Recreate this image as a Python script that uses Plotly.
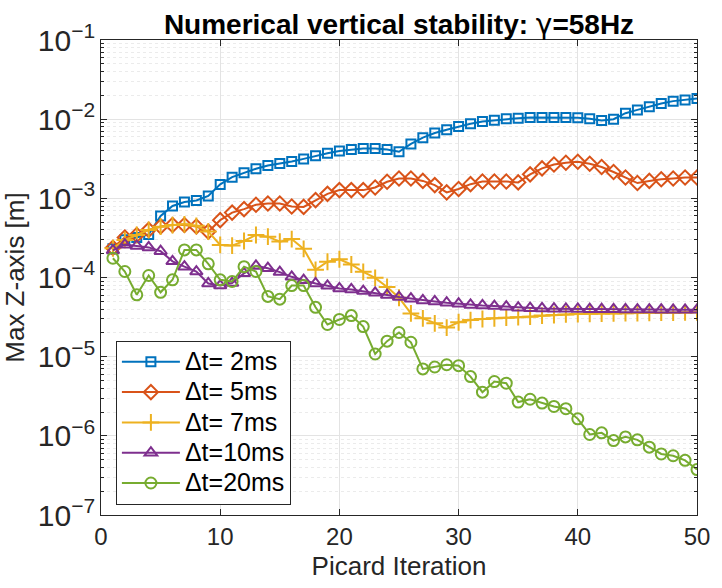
import plotly.graph_objects as go

iterations = list(range(1, 51))

dt_2ms = [2.3e-4, 3.0e-4, 3.2e-4, 3.5e-4, 6.0e-4, 8.0e-4, 9.0e-4, 9.4e-4, 1.07e-3, 1.5e-3,
          1.85e-3, 2.1e-3, 2.36e-3, 2.6e-3, 2.75e-3, 2.92e-3, 3.15e-3, 3.45e-3, 3.7e-3, 3.95e-3,
          4.14e-3, 4.26e-3, 4.26e-3, 4.14e-3, 3.87e-3, 4.87e-3, 5.84e-3, 6.68e-3, 7.36e-3, 8.1e-3,
          8.74e-3, 9.35e-3, 9.7e-3, 1.01e-2, 1.03e-2, 1.05e-2, 1.05e-2, 1.05e-2, 1.05e-2, 1.04e-2,
          1.01e-2, 9.6e-3, 1.0e-2, 1.19e-2, 1.31e-2, 1.44e-2, 1.58e-2, 1.69e-2, 1.74e-2, 1.83e-2]

dt_5ms = [2.38e-4, 3.2e-4, 3.44e-4, 4.0e-4, 4.4e-4, 4.6e-4, 4.6e-4, 4.4e-4, 3.8e-4, 5.3e-4,
          6.6e-4, 7.3e-4, 8.3e-4, 8.6e-4, 8.6e-4, 7.9e-4, 7.8e-4, 9.5e-4, 1.14e-3, 1.27e-3,
          1.27e-3, 1.27e-3, 1.37e-3, 1.62e-3, 1.78e-3, 1.78e-3, 1.66e-3, 1.47e-3, 1.19e-3, 1.31e-3,
          1.51e-3, 1.63e-3, 1.63e-3, 1.63e-3, 1.59e-3, 2.01e-3, 2.39e-3, 2.68e-3, 2.82e-3, 2.9e-3,
          2.73e-3, 2.49e-3, 2.15e-3, 1.83e-3, 1.56e-3, 1.66e-3, 1.74e-3, 1.78e-3, 1.83e-3, 1.83e-3]

dt_7ms = [2.34e-4, 2.98e-4, 3.44e-4, 3.98e-4, 4.38e-4, 4.6e-4, 4.69e-4, 4.5e-4, 3.8e-4, 2.58e-4,
          2.53e-4, 2.89e-4, 3.44e-4, 3.28e-4, 2.84e-4, 3.06e-4, 2.3e-4, 1.25e-4, 1.58e-4, 1.7e-4,
          1.46e-4, 1.18e-4, 9.9e-5, 7.6e-5, 5.55e-5, 3.52e-5, 3.05e-5, 2.64e-5, 2.33e-5, 2.72e-5,
          2.9e-5, 2.99e-5, 3.05e-5, 3.11e-5, 3.15e-5, 3.2e-5, 3.3e-5, 3.36e-5, 3.42e-5, 3.46e-5,
          3.48e-5, 3.5e-5, 3.52e-5, 3.54e-5, 3.56e-5, 3.58e-5, 3.6e-5, 3.6e-5, 3.62e-5, 3.64e-5]

dt_10ms = [2.2e-4, 2.6e-4, 2.5e-4, 2.4e-4, 2.15e-4, 1.6e-4, 1.37e-4, 1.19e-4, 8.4e-5, 7.9e-5,
           8.5e-5, 1.13e-4, 1.4e-4, 1.31e-4, 1.17e-4, 1.02e-4, 9.25e-5, 8.4e-5, 7.86e-5, 7.27e-5,
           7.07e-5, 6.73e-5, 6.41e-5, 6.0e-5, 5.66e-5, 5.4e-5, 5.14e-5, 4.99e-5, 4.8e-5, 4.66e-5,
           4.5e-5, 4.44e-5, 4.36e-5, 4.28e-5, 4.15e-5, 4.1e-5, 4.07e-5, 4.04e-5, 4.02e-5, 4.0e-5,
           3.98e-5, 3.97e-5, 3.96e-5, 3.95e-5, 3.94e-5, 3.93e-5, 3.92e-5, 3.91e-5, 3.9e-5, 3.9e-5]

dt_20ms = [1.75e-4, 1.19e-4, 6.05e-5, 1.06e-4, 6.5e-5, 9.35e-5, 2.23e-4, 2.23e-4, 1.49e-4, 9.35e-5,
           8.9e-5, 1.37e-4, 1.19e-4, 5.77e-5, 5.33e-5, 7.9e-5, 7.9e-5, 4.2e-5, 2.55e-5, 2.95e-5,
           3.3e-5, 2.4e-5, 1.08e-5, 1.57e-5, 2.02e-5, 1.52e-5, 7.0e-6, 7.4e-6, 7.9e-6, 7.7e-6,
           5.6e-6, 3.56e-6, 4.85e-6, 4.62e-6, 2.67e-6, 2.9e-6, 2.59e-6, 2.35e-6, 2.2e-6, 1.64e-6,
           1.04e-6, 1.09e-6, 8.7e-7, 9.7e-7, 8.9e-7, 7.2e-7, 5.9e-7, 5.6e-7, 4.9e-7, 3.75e-7]

series_names = ["Δt= 2ms", "Δt= 5ms", "Δt= 7ms", "Δt=10ms", "Δt=20ms"]
series_values = [dt_2ms, dt_5ms, dt_7ms, dt_10ms, dt_20ms]
colors = ["#0072BD", "#D95319", "#EDB120", "#7E2F8E", "#77AC30"]
symbols = ["square-open", "diamond-open", "cross-thin-open", "triangle-up-open", "circle-open"]
sizes = [9, 11, 12, 11, 11]

FONT = "Liberation Sans, Helvetica, Arial, sans-serif"
AXC = "#262626"

fig = go.Figure()
for name, vals, c, s, sz in zip(series_names, series_values, colors, symbols, sizes):
    fig.add_trace(go.Scatter(
        x=iterations, y=vals, name='<span style="font-size:25px">' + name + '</span>',
        mode="lines+markers",
        line=dict(color=c, width=2),
        marker=dict(symbol=s, size=sz, color=c, line=dict(color=c, width=2)),
    ))

title_text = ('Numerical vertical stability: '
              '<span style="font-family:DejaVu Sans;font-weight:normal">γ</span>=58Hz')

fig.update_layout(
    width=722, height=588, autosize=False,
    margin=dict(l=99, r=16, t=40, b=71),
    paper_bgcolor="white", plot_bgcolor="white",
    font=dict(family=FONT, color=AXC, size=24),
    hovermode=False,
    title=dict(text=title_text,
               font=dict(family=FONT, size=28, color="#000000", weight="bold"),
               x=0.5, xref="paper", xanchor="center",
               y=1 - 24 / 588, yref="container", yanchor="middle"),
    legend=dict(x=0.025, y=0.367, xanchor="left", yanchor="top",
                bgcolor="white", bordercolor=AXC, borderwidth=1,
                font=dict(family=FONT, size=21, color="#000000"),
                itemwidth=58, tracegroupgap=0),
    showlegend=True,
)

fig.update_xaxes(
    range=[0, 50], dtick=10, tick0=0,
    showline=True, linecolor=AXC, linewidth=1, mirror="ticks",
    ticks="inside", ticklen=6, tickcolor=AXC,
    showgrid=True, gridcolor="#e3e3e3", gridwidth=1, zeroline=False,
    tickfont=dict(family=FONT, size=24, color=AXC),
    title=dict(text="Picard Iteration", font=dict(family=FONT, size=26, color=AXC), standoff=8),
)

fig.update_yaxes(
    type="log", range=[-7, -1], dtick=1, exponentformat="power",
    showline=True, linecolor=AXC, linewidth=1, mirror="ticks",
    ticks="inside", ticklen=6, tickcolor=AXC,
    showgrid=True, gridcolor="#e3e3e3", gridwidth=1, zeroline=False,
    tickfont=dict(family=FONT, size=24, color=AXC),
    minor=dict(ticks="inside", ticklen=3, tickcolor=AXC, showgrid=True,
               gridcolor="#ebebeb", griddash="dot", dtick="D1"),
    title=dict(text="Max Z-axis [m]", font=dict(family=FONT, size=26, color=AXC), standoff=8),
)

fig.write_html("out.html", config={"displayModeBar": False, "staticPlot": True},
               post_script="document.body.style.margin='0';document.body.style.overflow='hidden';")
